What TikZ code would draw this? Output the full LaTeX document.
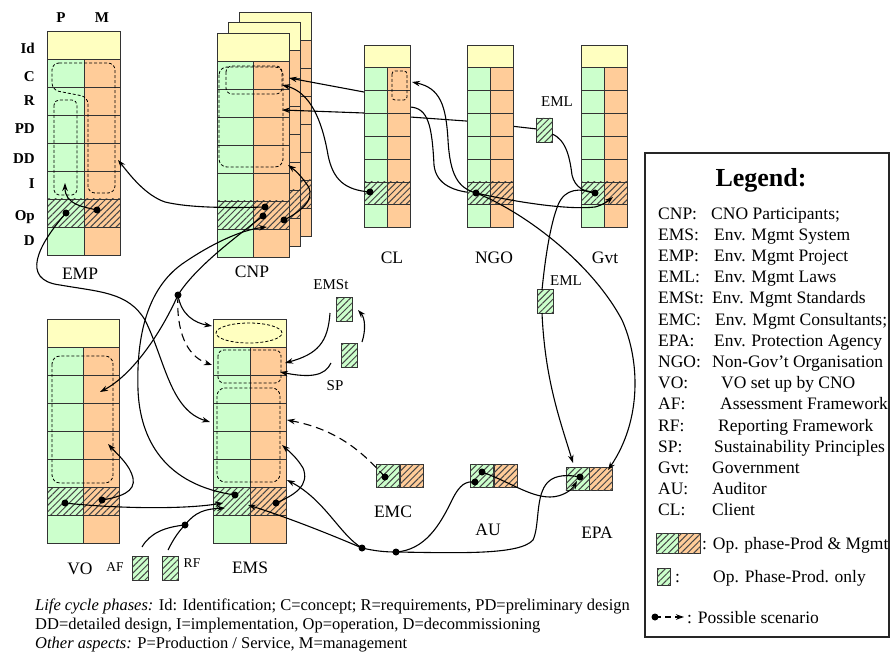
\documentclass[tikz,border=0pt]{standalone}
\usepackage{fontspec}
\setmainfont{Liberation Serif}
\usetikzlibrary{arrows.meta,patterns.meta,shapes.misc}
\definecolor{cgreen}{RGB}{204,255,204}
\definecolor{corange}{RGB}{255,204,153}
\definecolor{cyellow}{RGB}{255,255,192}
\definecolor{hatch}{RGB}{70,70,70}
\tikzset{
 cell/.style={draw=black!80, line width=0.9pt},
 hatchp/.style={pattern={Lines[angle=45,distance=4.5pt,line width=1pt]}, pattern color=hatch},
 conn/.style={line width=1.1pt, black},
 arr/.style={conn, -{Stealth[length=8pt,width=5.5pt]}},
 scen/.style={dash pattern=on 8pt off 5pt},
 dsh/.style={draw=black, line width=0.8pt, dash pattern=on 3pt off 2pt},
 dot/.style={circle, fill=black, inner sep=0pt, minimum size=7pt},
 docb/.style={chamfered rectangle, chamfered rectangle corners=north west, chamfered rectangle xsep=3pt, chamfered rectangle ysep=3pt, draw=black!80, line width=0.9pt, fill=cgreen, postaction={hatchp}, minimum width=16pt, minimum height=24pt, inner sep=0pt},
 pg/.style={rectangle, draw=black!80, line width=0.9pt, fill=cgreen, postaction={hatchp}, minimum width=23.5pt, minimum height=23.3pt, inner sep=0pt},
 po/.style={pg, fill=corange},
 lbl/.style={font=\fontsize{17.5}{20}\selectfont, inner sep=0pt},
 slbl/.style={font=\fontsize{15}{18}\selectfont, inner sep=0pt},
 tlbl/.style={font=\fontsize{13.5}{16}\selectfont, inner sep=0pt},
 rlbl/.style={font=\bfseries\fontsize{15}{18}\selectfont, inner sep=0pt, anchor=base east},
 leg/.style={font=\fontsize{17.5}{20}\selectfont, inner sep=0pt, anchor=base west},
 btxt/.style={font=\fontsize{16.5}{19}\selectfont, inner sep=0pt, anchor=base west},
}
% life-cycle column: xl, xdiv, xr, ytop, yellow-bottom, row height
\newcommand{\lcc}[6]{%
  \fill[cyellow] (#1,#4) rectangle (#3,#5);
  \draw[cell] (#1,#4) rectangle (#3,#5);
  \foreach \i in {0,...,6}{%
    \pgfmathsetmacro{\ya}{#5+\i*#6}%
    \pgfmathsetmacro{\yb}{#5+(\i+1)*#6}%
    \fill[cgreen] (#1,\ya) rectangle (#2,\yb);
    \fill[corange] (#2,\ya) rectangle (#3,\yb);
    \ifnum\i=5 \fill[hatchp] (#1,\ya) rectangle (#3,\yb);\fi
    \draw[cell] (#1,\ya) rectangle (#2,\yb);
    \draw[cell] (#2,\ya) rectangle (#3,\yb);
  }%
}
\begin{document}
\begin{tikzpicture}[x=1pt,y=-1pt]
\useasboundingbox (0,0) rectangle (891,655);
% ---------- coordinates ----------
\coordinate (pEMPm) at (97,210);
\coordinate (pEMPp) at (66,213);
\coordinate (tEMPi) at (65,183);
\coordinate (tEMPdd) at (118,160);
\coordinate (pCA) at (265,207);
\coordinate (pCB) at (263,216);
\coordinate (pCC) at (284,220);
\coordinate (tCdd) at (288,165);
\coordinate (tCop) at (267,227);
\coordinate (tCng) at (289,78);
\coordinate (tCcl) at (282,85);
\coordinate (tCeml) at (282,110);
\coordinate (pBr) at (178,295);
\coordinate (tEMSid) at (212,326);
\coordinate (tEMSc) at (212,365);
\coordinate (tVOr) at (100,392);
\coordinate (tEMSpdL) at (210,422);
\coordinate (pCL) at (370,192);
\coordinate (pNGO) at (476,193);
\coordinate (tCLc) at (412,82);
\coordinate (pGvt) at (595,193);
\coordinate (tGvt) at (613,197);
\coordinate (tEPAm) at (608,470);
\coordinate (tEPAtop) at (573,463);
\coordinate (tEPAin) at (577,481);
\coordinate (pEPA) at (580,477);
\coordinate (pAUu) at (482,472);
\coordinate (pAUl) at (475,482);
\coordinate (pD1) at (362,548);
\coordinate (pD2) at (396,552);
\coordinate (pEMC) at (385,477);
\coordinate (tEMSpdR) at (287,420);
\coordinate (tEMSi) at (287,480);
\coordinate (tEMSop) at (248,505);
\coordinate (pEMSp) at (235,495);
\coordinate (pEMSm) at (276,503);
\coordinate (tEMSdd) at (282,445);
\coordinate (pVOp) at (65,503);
\coordinate (pVOm) at (102,500);
\coordinate (tVOpd) at (108,444);
\coordinate (tEMSopL) at (223,503);
\coordinate (tEMSopL2) at (225,508);
\coordinate (pAR) at (185,525);
\coordinate (sAF) at (142,547);
\coordinate (sRF) at (168,550);
\coordinate (tEMSc2) at (285,363);
\coordinate (tEMSc3) at (280,372);
\coordinate (tEMSt) at (358,310);
\coordinate (sEMSt) at (330,313);
\coordinate (sSP) at (331,363);
\coordinate (sSP2) at (362,342);
\coordinate (pEMLw) at (537,129);
\coordinate (sEMLe) at (552,134);
\coordinate (sEMLt) at (542,290);
\coordinate (sEMLb) at (542,313);

% ---------- CNP (three layers) ----------
\lcc{239}{275}{311}{12}{40}{28}
\lcc{228}{264}{300}{22}{50}{28}
\lcc{217}{253}{289}{33}{61}{28}
\draw[dsh, rounded corners=8pt] (219,67) rectangle (283,167);
\draw[dsh, rounded corners=6pt] (226,66) rectangle (282,94);
% ---------- EMP ----------
\lcc{47}{84}{120}{31}{59}{28}
\draw[dsh, rounded corners=7pt] (52,63) -- (115,63) -- (115,193) -- (88,193) -- (88,97) -- (52,90) -- cycle;
\draw[dsh, rounded corners=5pt] (54,100) rectangle (77,195);

% ---------- connectors passing behind CL / NGO ----------
\draw[arr] (pNGO) .. controls (455,192) and (436,185) .. (434,165) .. controls (432,125) and (428,108) .. (410,107) -- (364,92) -- (tCng);
\draw[arr] (pEMLw) -- (466,121) -- (410,117) -- (364,113) -- (tCeml);

% ---------- CL, NGO, Gvt ----------
\lcc{364}{387}{410}{45}{67.5}{22.9}
\lcc{467}{490}{513}{45}{67.5}{22.9}
\lcc{581}{604}{627}{45}{67.5}{22.9}
\draw[dsh, rounded corners=3pt] (392,71) rectangle (407,100);
% ---------- VO, EMS ----------
\lcc{47}{83}{119}{319}{347}{28}
\lcc{213}{250}{286}{319}{347}{28}
\draw[dsh, rounded corners=8pt] (52,356) rectangle (113,483);
\draw[dsh] (249,333) ellipse [x radius=33pt, y radius=10pt];
\draw[dsh, rounded corners=6pt] (218,350) rectangle (281,383);
\draw[dsh, rounded corners=8pt] (217,388) rectangle (280,482);

% ---------- small boxes ----------
\node[docb] (EMLup) at (544.5,130) {};
\node[docb] (EMLlo) at (545.3,301.7) {};
\node[docb] (EMSt) at (344,309.5) {};
\node[docb] (SP) at (349,355.3) {};
\node[docb] (AF) at (140.5,568.7) {};
\node[docb] (RF) at (170.5,568.7) {};
\node[pg] (EMCg) at (388,475.7) {};
\node[po] (EMCo) at (411.7,475.7) {};
\node[pg] (AUg) at (482,475.7) {};
\node[po] (AUo) at (505.7,475.7) {};
\node[pg] (EPAg) at (577.7,479) {};
\node[po] (EPAo) at (601,479) {};

% ---------- connectors ----------
\draw[arr] (pEMPm) .. controls (84,207) and (65,205) .. (tEMPi);
\draw[arr] (pEMPp) .. controls (38,245) and (20,280) .. (60,285) .. controls (100,292) and (128,292) .. (145,320) .. controls (165,360) and (170,410) .. (tEMSpdL);
\draw[arr] (pCA) .. controls (230,208) and (190,208) .. (165,202) .. controls (145,195) and (130,175) .. (tEMPdd);
\draw[conn] (pCB) .. controls (232,240) and (195,268) .. (pBr);
\draw[arr] (pBr) .. controls (181,315) and (195,323) .. (tEMSid);
\draw[arr, scen] (pBr) .. controls (176,330) and (186,356) .. (tEMSc);
\draw[arr] (pBr) .. controls (160,335) and (132,375) .. (tVOr);
\draw[arr] (pCC) .. controls (300,212) and (316,200) .. (308,186) .. controls (302,177) and (296,171) .. (tCdd);
\draw[arr] (pEMSp) .. controls (165,485) and (140,440) .. (138,390) .. controls (136,330) and (150,285) .. (185,262) .. controls (210,245) and (240,230) .. (tCop);
\draw[arr] (pCL) .. controls (345,190) and (333,180) .. (328,155) .. controls (322,120) and (310,92) .. (tCcl);
\draw[arr] (pNGO) .. controls (458,188) and (450,175) .. (448,140) .. controls (446,105) and (440,88) .. (tCLc);
\draw[arr] (pNGO) .. controls (520,203) and (570,210) .. (595,207) .. controls (603,205) and (608,201) .. (tGvt);
\draw[arr] (pNGO) .. controls (520,210) and (590,260) .. (622,320) .. controls (640,360) and (642,420) .. (tEPAm);
\draw[conn] (sEMLe) .. controls (567,140) and (570,160) .. (572,175) .. controls (575,188) and (585,192) .. (pGvt);
\draw[conn] (pGvt) .. controls (580,188) and (565,188) .. (558,205) .. controls (550,225) and (545,260) .. (sEMLt);
\draw[arr] (sEMLb) .. controls (545,380) and (560,420) .. (tEPAtop);
\draw[arr] (pEMSm) .. controls (295,495) and (310,485) .. (303,468) .. controls (297,458) and (290,452) .. (tEMSdd);
\draw[arr] (pVOm) .. controls (120,497) and (136,492) .. (133,478) .. controls (130,465) and (118,455) .. (tVOpd);
\draw[arr] (pVOp) .. controls (110,508) and (180,510) .. (tEMSopL);
\draw[conn] (sAF) .. controls (150,533) and (165,527) .. (pAR);
\draw[conn] (sRF) .. controls (173,540) and (178,532) .. (pAR);
\draw[arr] (pAR) .. controls (195,512) and (205,509) .. (tEMSopL2);
\draw[arr] (pD1) .. controls (340,535) and (325,500) .. (tEMSi);
\draw[arr] (pD1) .. controls (320,530) and (280,515) .. (tEMSop);
\draw[conn] (pD1) .. controls (375,551) and (385,552) .. (pD2);
\draw[conn] (pD2) .. controls (425,550) and (440,525) .. (452,500) .. controls (460,484) and (466,481) .. (pAUl);
\draw[conn] (pD2) .. controls (460,553) and (520,555) .. (533,540) .. controls (540,525) and (535,495) .. (548,482) .. controls (556,474) and (570,475) .. (pEPA);
\draw[arr] (pAUu) .. controls (510,482) and (530,497) .. (550,497) .. controls (562,497) and (572,490) .. (tEPAin);
\draw[arr, scen] (pEMC) .. controls (365,455) and (340,430) .. (tEMSpdR);
\draw[arr] (sEMSt) .. controls (328,342) and (318,354) .. (tEMSc2);
\draw[arr] (sSP) .. controls (325,376) and (310,378) .. (tEMSc3);
\draw[arr] (sSP2) .. controls (366,330) and (365,318) .. (tEMSt);

% ---------- dots ----------
\foreach \p in {pEMPm,pEMPp,pCA,pCB,pCC,pBr,pCL,pNGO,pGvt,pEPA,pAUu,pAUl,pD1,pD2,pEMC,pEMSp,pEMSm,pVOp,pVOm,pAR}
  \node[dot] (d\p) at (\p) {};

% ---------- labels ----------
\node[font=\bfseries\fontsize{15}{18}\selectfont] (hP) at (61,18) {P};
\node[font=\bfseries\fontsize{15}{18}\selectfont] (hM) at (102,18) {M};
\node[rlbl] (rId) at (35,53.3) {Id};
\node[rlbl] (rC) at (35,81.7) {C};
\node[rlbl] (rR) at (35,106) {R};
\node[rlbl] (rPD) at (35,133.3) {PD};
\node[rlbl] (rDD) at (35,163.3) {DD};
\node[rlbl] (rI) at (35,188.3) {I};
\node[rlbl] (rOp) at (35,220) {Op};
\node[rlbl] (rD) at (35,245) {D};
\node[lbl] (lEMP) at (80,274) {EMP};
\node[lbl] (lCNP) at (252,272) {CNP};
\node[lbl] (lCL) at (392,258) {CL};
\node[lbl] (lNGO) at (494,258) {NGO};
\node[lbl] (lGvt) at (605,258) {Gvt};
\node[lbl] (lVO) at (80,569) {VO};
\node[lbl] (lEMS) at (250,568) {EMS};
\node[lbl] (lEMC) at (393,512) {EMC};
\node[lbl] (lAU) at (488,530) {AU};
\node[lbl] (lEPA) at (597,533) {EPA};
\node[tlbl] (lAF) at (115,567) {AF};
\node[tlbl] (lRF) at (192,563) {RF};
\node[slbl] (lEMSt) at (331,285) {EMSt};
\node[slbl] (lSP) at (335,386) {SP};
\node[slbl] (lEMLu) at (557,102) {EML};
\node[slbl] (lEMLl) at (566,281) {EML};

% ---------- legend ----------
\draw[draw=black!85, line width=1.5pt] (645,153) rectangle (889,637);
\node[font=\bfseries\fontsize{26}{30}\selectfont, inner sep=0pt, anchor=base] (legT) at (761,186) {Legend:};
\foreach \ab/\tx/\xx [count=\k from 0] in {CNP:/CNO Participants;/711, EMS:/Env. Mgmt System/714, EMP:/Env. Mgmt Project/714, EML:/Env. Mgmt Laws/714, EMSt:/Env. Mgmt Standards/712, EMC:/Env. Mgmt Consultants;/715, EPA:/Env. Protection Agency/714, NGO:/Non-Gov’t Organisation/712, VO:/VO set up by CNO/721, AF:/Assessment Framework/720, RF:/Reporting Framework/718, SP:/Sustainability Principles/714, Gvt:/Government/712, AU:/Auditor/712, CL:/Client/712}{
  \node[leg] (lga\k) at (658,{219+21.2*\k}) {\ab};
  \node[leg] (lgt\k) at (\xx,{219+21.2*\k}) {\tx};
}
\node[pg, minimum width=22pt, minimum height=20pt] (lgG) at (667,543) {};
\node[po, minimum width=22pt, minimum height=20pt] (lgO) at (689,543) {};
\node[leg] (lgPM) at (702,549) {: Op. phase-Prod \& Mgmt};
\node[docb, minimum width=13pt, minimum height=17pt, chamfered rectangle xsep=2pt, chamfered rectangle ysep=2pt] (lgS) at (663.5,576.5) {};
\node[leg] (lgSc) at (675,582.5) {:};
\node[leg] (lgSt) at (713,582.5) {Op. Phase-Prod. only};
\node[dot] (lgdot) at (655,617) {};
\coordinate (lgtip) at (684,617);
\draw[arr, dash pattern=on 6pt off 4pt] (lgdot.center) -- (lgtip);
\node[leg] (lgPS) at (687,623) {: Possible scenario};

% ---------- bottom notes ----------
\node[btxt] (bt1) at (35,610) {\textit{Life cycle phases:} Id: Identification; C=concept; R=requirements, PD=preliminary design};
\node[btxt] (bt2) at (35,629) {DD=detailed design, I=implementation, Op=operation, D=decommissioning};
\node[btxt] (bt3) at (35,648) {\textit{Other aspects:} P=Production / Service, M=management};
\end{tikzpicture}
\end{document}
